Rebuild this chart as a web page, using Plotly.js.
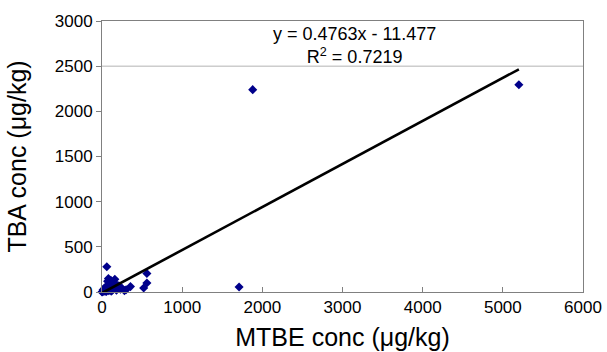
<!DOCTYPE html>
<html>
<head>
<meta charset="utf-8">
<script src="https://cdn.plot.ly/plotly-3.0.1.min.js"></script>
<style>html,body{margin:0;padding:0;background:#fff}#chart{width:607px;height:352px}</style>
</head>
<body>
<div id="chart"></div>
<script>
// MTBE concentration (µg/kg)
const mtbe = [0, 5, 10, 15, 20, 25, 30, 35, 40, 45, 50, 55, 60, 65, 70, 75, 80, 85, 90, 95,
  100, 105, 110, 115, 120, 125, 130, 140, 150, 160, 170, 180, 200, 210, 230, 250, 280, 300,
  355, 520, 560, 560, 1710, 1880, 5200];
// TBA concentration (µg/kg)
const tba = [0, 2, 5, 25, 15, 8, 40, 20, 10, 35, 60, 5, 280, 30, 120, 50, 150, 15, 30, 45,
  80, 25, 130, 10, 60, 35, 20, 100, 40, 140, 90, 20, 50, 70, 30, 40, 15, 25,
  60, 45, 100, 205, 55, 2240, 2295];
// Linear trendline parameters (as printed on the chart)
const slope = 0.4763;
const intercept = -11.477;
const r2 = 0.7219;
const xTicks = [0, 1000, 2000, 3000, 4000, 5000, 6000];
const yTicks = [0, 500, 1000, 1500, 2000, 2500, 3000];

const xMin = Math.min(...mtbe), xMax = Math.max(...mtbe);
const fitX = [xMin, xMax];
const fitY = fitX.map(v => slope * v + intercept);

const font = "Liberation Sans, Arial, sans-serif";
const data = [
  {x: mtbe, y: tba, type: 'scatter', mode: 'markers',
   marker: {symbol: 'diamond', size: 7, color: '#00008B'}, cliponaxis: false},
  {x: fitX, y: fitY, type: 'scatter', mode: 'lines',
   line: {color: '#000000', width: 2.6}}
];
const layout = {
  width: 607, height: 352,
  margin: {l: 102, r: 24, t: 21, b: 60, pad: 0},
  showlegend: false,
  paper_bgcolor: '#ffffff', plot_bgcolor: '#ffffff',
  font: {family: font, color: '#000000', size: 17},
  xaxis: {range: [0, 6000], tickvals: xTicks, ticktext: xTicks.map(String),
    ticks: 'inside', ticklen: 5, tickcolor: '#808080', showgrid: false, zeroline: false,
    showline: true, linecolor: '#808080', linewidth: 1, mirror: true,
    tickfont: {size: 17, family: font},
    title: {text: 'MTBE conc (μg/kg)', font: {size: 25, family: font}, standoff: 12}},
  yaxis: {range: [0, 3000], tickvals: yTicks, ticktext: yTicks.map(String),
    ticks: 'outside', ticklen: 5, tickcolor: '#808080', showgrid: false, zeroline: false,
    showline: true, linecolor: '#808080', linewidth: 1, mirror: true,
    tickfont: {size: 17, family: font},
    title: {text: 'TBA conc (μg/kg)', font: {size: 25, family: font}, standoff: 21}},
  shapes: [
    {type: 'line', xref: 'paper', x0: 0, x1: 1, yref: 'y', y0: 2500, y1: 2500,
     line: {color: '#b4b4b4', width: 1}, layer: 'below'}
  ],
  annotations: [
    {xref: 'paper', yref: 'paper', x: 0.525, y: 0.91, xanchor: 'center', yanchor: 'middle',
     showarrow: false, align: 'center',
     font: {size: 18, family: font, color: '#000'},
     text: 'y = ' + slope + 'x - ' + Math.abs(intercept) + '<br>R<sup>2</sup> = ' + r2}
  ]
};
Plotly.newPlot('chart', data, layout, {displayModeBar: false, staticPlot: true});
</script>
</body>
</html>
